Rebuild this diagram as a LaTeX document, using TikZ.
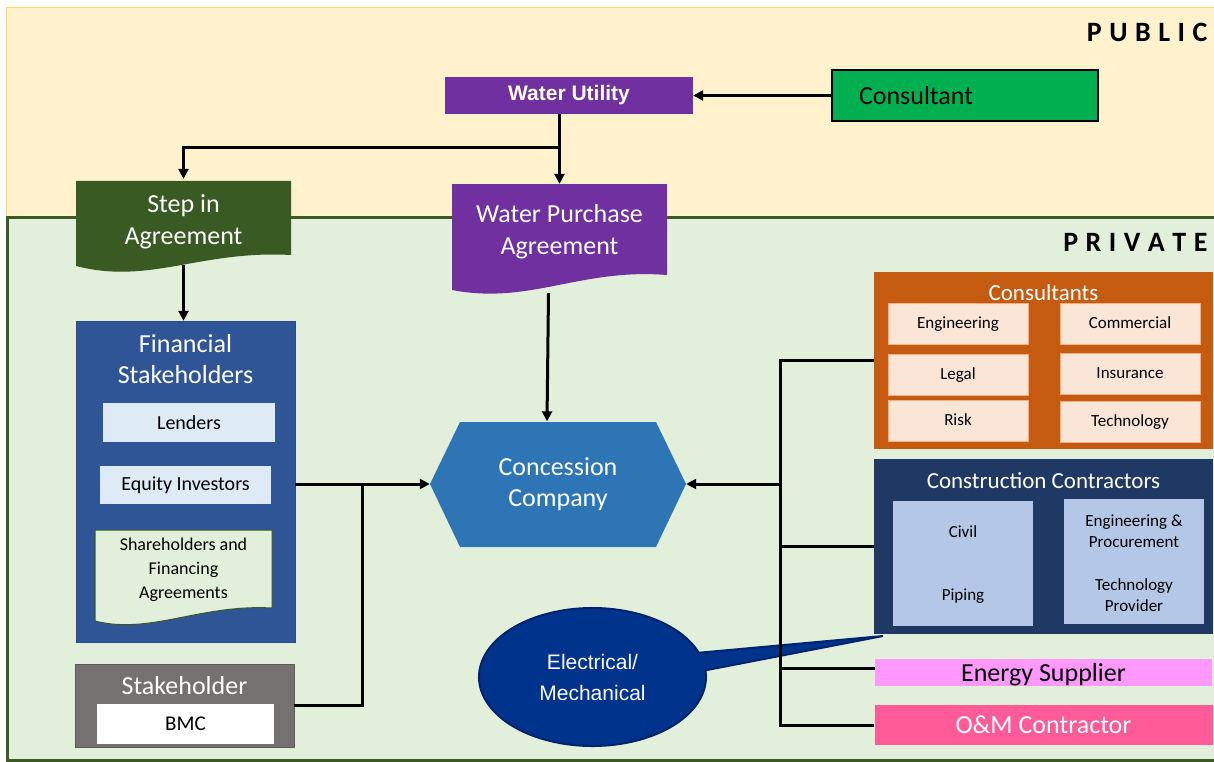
\documentclass[tikz,border=0pt]{standalone}
\usepackage{fontspec}
\setmainfont{Carlito}
\newfontfamily\arialfont{Liberation Sans}
\usetikzlibrary{arrows.meta,shapes.callouts}
\definecolor{pubfill}{HTML}{FFF2CC}
\definecolor{publine}{HTML}{FFD966}
\definecolor{privfill}{HTML}{E2EFDA}
\definecolor{privline}{HTML}{3B5A24}
\definecolor{wupurple}{HTML}{7030A0}
\definecolor{consgreen}{HTML}{00B050}
\definecolor{stepgreen}{HTML}{3A5A24}
\definecolor{finblue}{HTML}{2F5597}
\definecolor{finedge}{HTML}{2A4D8A}
\definecolor{lendfill}{HTML}{DEEBF7}
\definecolor{stkgrey}{HTML}{767171}
\definecolor{ccblue}{HTML}{2E75B6}
\definecolor{consorange}{HTML}{C55A11}
\definecolor{peach}{HTML}{FBE5D6}
\definecolor{peachedge}{HTML}{F4B183}
\definecolor{navy}{HTML}{203864}
\definecolor{skyfill}{HTML}{B4C7E7}
\definecolor{enpink}{HTML}{FF99FF}
\definecolor{ompink}{HTML}{FF5B99}
\definecolor{elecblue}{HTML}{00348C}
\definecolor{elecedge}{HTML}{00246B}
\newcommand{\setfs}[2]{\fontsize{#1}{#2}\selectfont}
\newcommand{\lgap}{\hspace{7.5pt}}
\begin{document}
\begin{tikzpicture}[x=1pt,y=-1pt,
    box/.style={rectangle,inner sep=0pt,align=center},
    orsub/.style={box,fill=peach,draw=peachedge,line width=0.6pt,minimum width=140,minimum height=41,text height=12pt,text depth=3pt,font=\setfs{17}{20}},
    bluesub/.style={box,fill=skyfill,minimum width=140,minimum height=125},
    subtext/.style={box,font=\setfs{17}{21}},
    link/.style={line width=3pt},
    arrow/.style={link,-{Triangle[length=10pt,width=10pt]}}]
    \useasboundingbox[fill=white] (0,0) rectangle (1214,762);
    % public and private bands
    \draw[publine,fill=pubfill] (6,7) rectangle (1214,217);
    \fill[privfill] (7,217) rectangle (1214,760);
    \draw[privline,line width=3pt] (1214,217) -- (7,217) -- (7,760) -- (1214,760);
    \node[anchor=east,font={\bfseries\setfs{28}{30}}] (pub) at (1211,32) {P\lgap U\lgap B\lgap L\lgap I\lgap C};
    \node[anchor=east,font={\bfseries\setfs{28}{30}}] (priv) at (1211,242) {P\lgap R\lgap I\lgap V\lgap A\lgap T\lgap E};
    % public side
    \node[box,fill=wupurple,minimum width=248,minimum height=37,text=white,font={\arialfont\bfseries\setfs{21}{24}}] (wu) at (569,95.5) {Water Utility};
    \node[box,draw=black,line width=1.2pt,fill=consgreen,minimum width=266,minimum height=51,text width=212,inner xsep=27pt,align=left,font=\setfs{26}{30}] (consultant) at (965,95.5) {Consultant};
    % agreements
    \fill[stepgreen] (76,181) -- (291,181) -- (291,255) .. controls (200,250) and (150,285) .. (76,266) -- cycle
        node[box,text=white,minimum width=215,minimum height=86,font=\setfs{26}{32}] (stepin) at (183.5,222) {Step in\\Agreement};
    \fill[wupurple] (452,184) -- (667,184) -- (667,275) .. controls (580,268) and (530,305) .. (452,290) -- cycle
        node[box,text=white,minimum width=215,minimum height=96,font=\setfs{26}{32}] (wpa) at (559.5,232) {Water Purchase\\Agreement};
    % financial stakeholders
    \node[box,fill=finblue,draw=finedge,minimum width=219,minimum height=321] (fin) at (185.5,481.5) {};
    \node[box,text=white,font=\setfs{26}{31}] (fintitle) at (185.5,359.5) {Financial\\Stakeholders};
    \node[box,fill=lendfill,minimum width=172,minimum height=39,font=\setfs{20}{22}] (lenders) at (189,422.5) {Lenders};
    \node[box,fill=lendfill,minimum width=171,minimum height=38,font=\setfs{20}{22}] (equity) at (185.5,485) {Equity Investors};
    \fill[privfill,draw=stepgreen,line width=1pt] (95,530) -- (272,530) -- (272,608) .. controls (200,604) and (150,635) .. (95,621) -- cycle
        node[box,text=black,font=\setfs{18}{24}] (share) at (183.5,570) {Shareholders and\\Financing\\Agreements};
    % stakeholder
    \node[box,fill=stkgrey,draw=stkgrey!80!black,minimum width=219,minimum height=83] (stk) at (184.5,705.5) {};
    \node[box,text=white,font=\setfs{26}{28}] (stktitle) at (184.5,686) {Stakeholder};
    \node[box,fill=white,minimum width=177,minimum height=40,font=\setfs{21}{24}] (bmc) at (185.5,724) {BMC};
    % concession company
    \fill[ccblue] (430,484) -- (460,422) -- (656,422) -- (686,484) -- (656,547) -- (460,547) -- cycle
        node[box,text=white,minimum width=256,minimum height=125,font=\setfs{26}{31}] (ccon) at (558,484) {Concession\\Company};
    % consultants
    \node[box,fill=consorange,minimum width=339,minimum height=177] (cons) at (1043.5,360.5) {};
    \node[box,text=white,font=\setfs{23}{25}] (constitle) at (1043.5,293) {Consultants};
    \node[orsub] (engc) at (958,323.5) {Engineering};
    \node[orsub] (legal) at (958,374.5) {Legal};
    \node[orsub] (risk) at (958,421) {Risk};
    \node[orsub] (comm) at (1130,324) {Commercial};
    \node[orsub] (insur) at (1130,374) {Insurance};
    \node[orsub] (techc) at (1130,421.5) {Technology};
    % construction contractors
    \node[box,fill=navy,minimum width=339,minimum height=175] (ccont) at (1043.5,546.5) {};
    \node[box,text=white,font=\setfs{23}{25}] (ccontitle) at (1043.5,481) {Construction Contractors};
    \node[bluesub] (civbox) at (963,563.5) {};
    \node[bluesub] (epbox) at (1134,561.5) {};
    \node[subtext] (civil) at (963,532) {Civil};
    \node[subtext] (piping) at (963,596) {Piping};
    \node[subtext] (engproc) at (1134,531.5) {Engineering \&\\Procurement};
    \node[subtext] (techprov) at (1134,595.5) {Technology\\Provider};
    % energy and o&m
    \node[box,fill=enpink,minimum width=337,minimum height=27,text height=17pt,text depth=0pt,font=\setfs{26}{28}] (energy) at (1043.5,672.5) {Energy Supplier};
    \node[box,fill=ompink,minimum width=338,minimum height=40,text=white,font=\setfs{26}{28}] (omc) at (1043.5,725) {O\&M Contractor};
    % callout
    \coordinate (ptip) at (883,636);
    \node[ellipse callout,fill=elecblue,draw=elecedge,line width=2pt,minimum width=227,minimum height=138,callout absolute pointer={(ptip)},text=white,align=center,font={\arialfont\setfs{21}{31}}] (elec) at (592.5,677) {Electrical/\\Mechanical};
    % connectors
    \coordinate (split) at (559.5,148);
    \coordinate (joinL) at (362,484);
    \coordinate (busBot) at (780,725);
    \draw[arrow] (consultant.west) -- (wu.east);
    \draw[arrow] (wpa.north |- wu.south) -- (wpa.north);
    \draw[arrow] (split) -| (stepin.north);
    \draw[arrow] ([xshift=-11pt,yshift=-13pt]wpa.south) -- ([xshift=-11pt]ccon.north);
    \draw[arrow] (stepin.south) -- (stepin.south |- fin.north);
    \draw[arrow] (fin.east |- ccon.west) -- (ccon.west);
    \draw[link] (stk.east) -| (joinL);
    \draw[link] (cons.west) -| (busBot) -- (omc.west);
    \draw[link] (ccont.west) -- (ccont.west -| busBot);
    \draw[link] ([yshift=4pt]energy.west) -- ([yshift=4pt]energy.west -| busBot);
    \draw[arrow] (ccon.east -| busBot) -- (ccon.east);
\end{tikzpicture}
\end{document}
